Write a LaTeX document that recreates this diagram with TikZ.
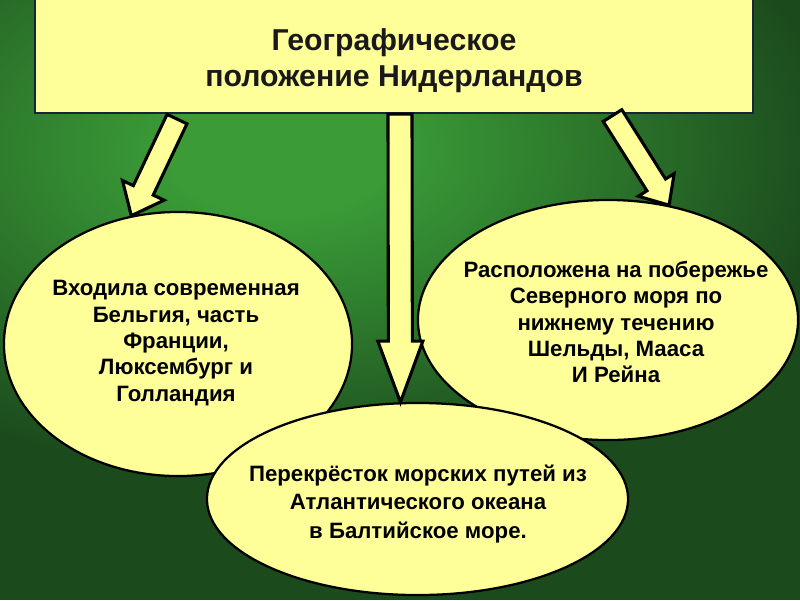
\documentclass[tikz,border=0pt]{standalone}
\usepackage{fontspec}
\setmainfont{Liberation Sans}
\usetikzlibrary{shapes.geometric,calc}
\definecolor{bgdark}{RGB}{27,74,29}
\definecolor{bglight}{RGB}{58,155,55}
\definecolor{paleyel}{RGB}{255,255,153}
\definecolor{navyline}{RGB}{22,38,58}
\pgfdeclareradialshading{greenglow}{\pgfpointorigin}{color(0bp)=(bglight); color(5bp)=(bglight); color(25bp)=(bgdark); color(50bp)=(bgdark)}
\tikzset{
  titlebox/.style={draw=navyline, line width=1.5pt, fill=paleyel, minimum width=17.95cm,
    minimum height=2.875cm},
  titletext/.style={align=center, font=\bfseries\fontsize{21.5}{25.6}\selectfont, text=black!90},
  bubble/.style={ellipse, draw=black, line width=1.6pt, fill=paleyel, inner sep=0pt},
  bubtext/.style={align=center, font=\bfseries\fontsize{15.8}{18.8}\selectfont},
  arrowbody/.style={draw=black, line width=2.2pt, fill=paleyel, line join=miter}
}
% start, tip, shaft half width, head half width, head length
\newcommand{\blockarrow}[5]{%
  \coordinate (hb) at ($(#2)!#5!(#1)$);
  \filldraw[arrowbody] ($(#1)!#3!90:(#2)$) -- ($(hb)!#3!90:(#2)$) -- ($(hb)!#4!90:(#2)$) -- (#2)
    -- ($(hb)!#4!-90:(#2)$) -- ($(hb)!#3!-90:(#2)$) -- ($(#1)!#3!-90:(#2)$) -- cycle;
}

\begin{document}
\begin{tikzpicture}[x=0.025cm, y=-0.025cm]
\useasboundingbox (0,0) rectangle (800,600);
\fill[bgdark] (0,0) rectangle (800,600);
\begin{scope}
\clip (0,0) rectangle (800,600);
\shade[shading=greenglow] (280,150) ellipse [x radius=560, y radius=330];

\node[titlebox] (title) at (394,55.5) {};
\node[titletext] (titleT) at (394,61) {Географическое\\положение Нидерландов};

\node[bubble, minimum width=8.7cm, minimum height=6.6cm] (left) at (178,344) {};
\node[bubble, minimum width=9.5cm, minimum height=6cm] (right) at (608,320) {};
\node[bubble, minimum width=10.525cm, minimum height=4.8cm] (bottom) at (417.5,499) {};

\node[bubtext] (leftT) at (176,343) {Входила современная\\Бельгия, часть\\Франции,\\Люксембург и\\Голландия};
\node[bubtext] (rightT) at (616,322) {Расположена на побережье\\Северного моря по\\нижнему течению\\Шельды, Мааса\\И Рейна};
\node[bubtext, font=\bfseries\fontsize{15.8}{20}\selectfont] (bottomT) at (418,504)
  {Перекрёсток морских путей из\\Атлантического океана\\в Балтийское море.};

\coordinate (fromL) at ($(title.south)+(-217,5)$);
\coordinate (fromR) at ($(title.south)+(218.5,1.5)$);
\coordinate (fromC) at ($(title.south)+(6,0)$);
\blockarrow{fromL}{left.110}{0.275cm}{0.575cm}{0.7cm}
\blockarrow{fromR}{right.62}{0.275cm}{0.53cm}{0.6cm}
\blockarrow{fromC}{bottom.100}{0.3cm}{0.5625cm}{1.525cm}
\end{scope}
\end{tikzpicture}
\end{document}
